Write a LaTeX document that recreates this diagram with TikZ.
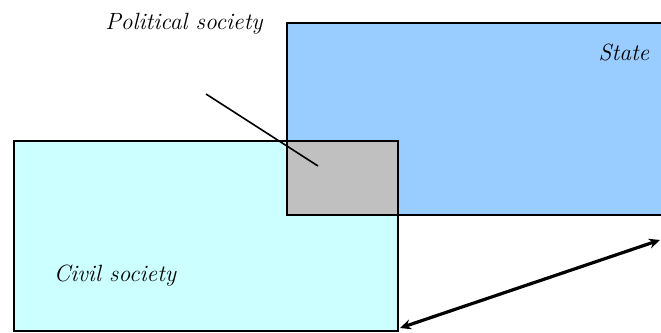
\documentclass[tikz,border=0pt]{standalone}
\usetikzlibrary{arrows.meta}
\definecolor{stateblue}{HTML}{99CCFF}
\definecolor{civilcyan}{HTML}{CCFFFF}
\definecolor{overlapgray}{HTML}{C0C0C0}
\tikzset{
  region/.style={draw=black, line width=1.8pt, rectangle, inner sep=0pt, anchor=north west},
  lbl/.style={font=\itshape\fontsize{23.5}{26}\selectfont, inner sep=0pt, text=black},
}
\begin{document}
\begin{tikzpicture}[x=1pt,y=-1pt]
\useasboundingbox (0,0) rectangle (661,332);
\begin{scope}
\clip (0,0) rectangle (661,332);
\node[region, fill=stateblue, minimum width=390pt, minimum height=192pt] (state) at (286,22) {};
\node[region, fill=civilcyan, minimum width=384pt, minimum height=190pt] (civil) at (13,140) {};
\node[region, fill=overlapgray, minimum width=111pt, minimum height=74pt] (overlap) at (286,140) {};
\end{scope}
\node[lbl] (pol) at (184,24) {Political society};
\node[lbl] (statelbl) at (624,52) {State};
\node[lbl] (civlbl) at (115,276) {Civil society};
\coordinate (pstart) at (206,94);
\coordinate (pend) at (318,166);
\draw[line width=1.6pt] (pstart) -- (pend);
\coordinate (aL) at (400,328);
\coordinate (aR) at (660,240);
\draw[line width=3.2pt, {Stealth[length=11pt,width=10pt]}-{Stealth[length=11pt,width=10pt]}] (aL) -- (aR);
\end{tikzpicture}
\end{document}
